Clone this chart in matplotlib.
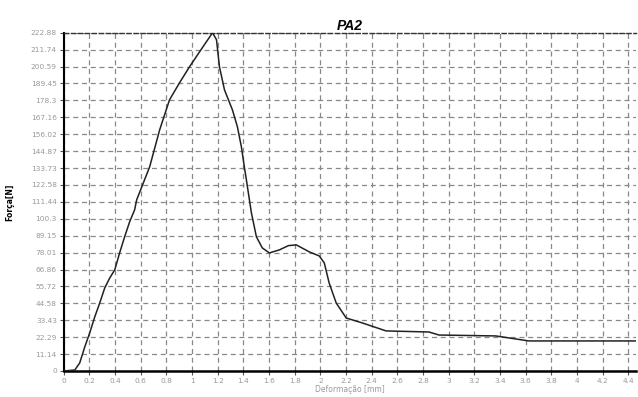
import numpy as np
import matplotlib.pyplot as plt

# curva forca x deformacao
deform = [0, 0.086, 0.124, 0.163, 0.202, 0.241, 0.280, 0.319, 0.358, 0.397, 0.435,
          0.474, 0.513, 0.552, 0.568, 0.669, 0.747, 0.824, 0.902, 0.980, 1.058,
          1.159, 1.19, 1.213, 1.252, 1.314, 1.353, 1.384, 1.407, 1.423, 1.462,
          1.501, 1.547, 1.602, 1.680, 1.75, 1.812, 1.913, 1.991, 2.030, 2.068, 2.123,
          2.201, 2.325, 2.512, 2.846, 2.924, 3.367, 3.523, 3.624, 4.46]
forca = [0, 0.66, 5.3, 15.8, 25.1, 35.6, 44.8, 54.7, 61.3, 66.6, 77.8,
         88.4, 98.3, 106.2, 112.8, 134.5, 158.9, 178.7, 189.9, 200.5, 210.3,
         222.88, 218.3, 200.5, 185.3, 172.1, 160.9, 147.7, 134.5, 125.9, 104.2,
         88.4, 81.1, 77.8, 79.8, 82.6, 83.1, 78.5, 75.8, 71.2, 58.0, 44.8,
         34.9, 31.7, 26.4, 25.7, 23.7, 23.1, 21.1, 19.8, 19.8]

y_ticks = [0, 11.14, 22.29, 33.43, 44.58, 55.72, 66.86, 78.01, 89.15, 100.3, 111.44,
           122.58, 133.73, 144.87, 156.02, 167.16, 178.3, 189.45, 200.59, 211.74, 222.88]
x_ticks = [0, 0.2, 0.4, 0.6, 0.8, 1, 1.2, 1.4, 1.6, 1.8, 2, 2.2, 2.4, 2.6, 2.8,
           3, 3.2, 3.4, 3.6, 3.8, 4, 4.2, 4.4]

fig = plt.figure(figsize=(6.38, 3.97), dpi=100)
ax = fig.add_axes([0.100, 0.0655, 0.897, 0.852])

ax.plot(deform, forca, color='#222222', lw=1.1, zorder=3)

ax.set_xlim(0, 4.46)
ax.set_ylim(0, 222.88)
ax.set_xticks(x_ticks)
ax.set_xticklabels([('%g' % v) for v in x_ticks])
ax.set_yticks(y_ticks)
ax.set_yticklabels([('%g' % v) for v in y_ticks])
ax.tick_params(labelsize=5.3, colors='#999999', length=3, pad=2)
ax.tick_params(axis='both', color='#555555')

ax.grid(True, color='#888888', linestyle=(0, (4, 3)), lw=0.9)

ax.spines['right'].set_visible(False)
ax.spines['left'].set_color('black')
ax.spines['left'].set_linewidth(1.5)
ax.spines['bottom'].set_color('black')
ax.spines['bottom'].set_linewidth(1.8)
ax.spines['bottom'].set_linestyle((0, (3, 1)))
ax.spines['top'].set_color('#333333')
ax.spines['top'].set_linewidth(1.0)
ax.spines['top'].set_linestyle((0, (3, 2)))

ax.set_title('PA2', fontsize=10, fontweight='bold', style='italic', pad=2,
             family='Liberation Sans')
ax.set_ylabel('Força[N]', fontsize=5.5, fontweight='bold', labelpad=12)
ax.set_xlabel('Deformação [mm]', fontsize=5.5, color='#999999', labelpad=1)

fig.savefig('out.png', dpi=100)
